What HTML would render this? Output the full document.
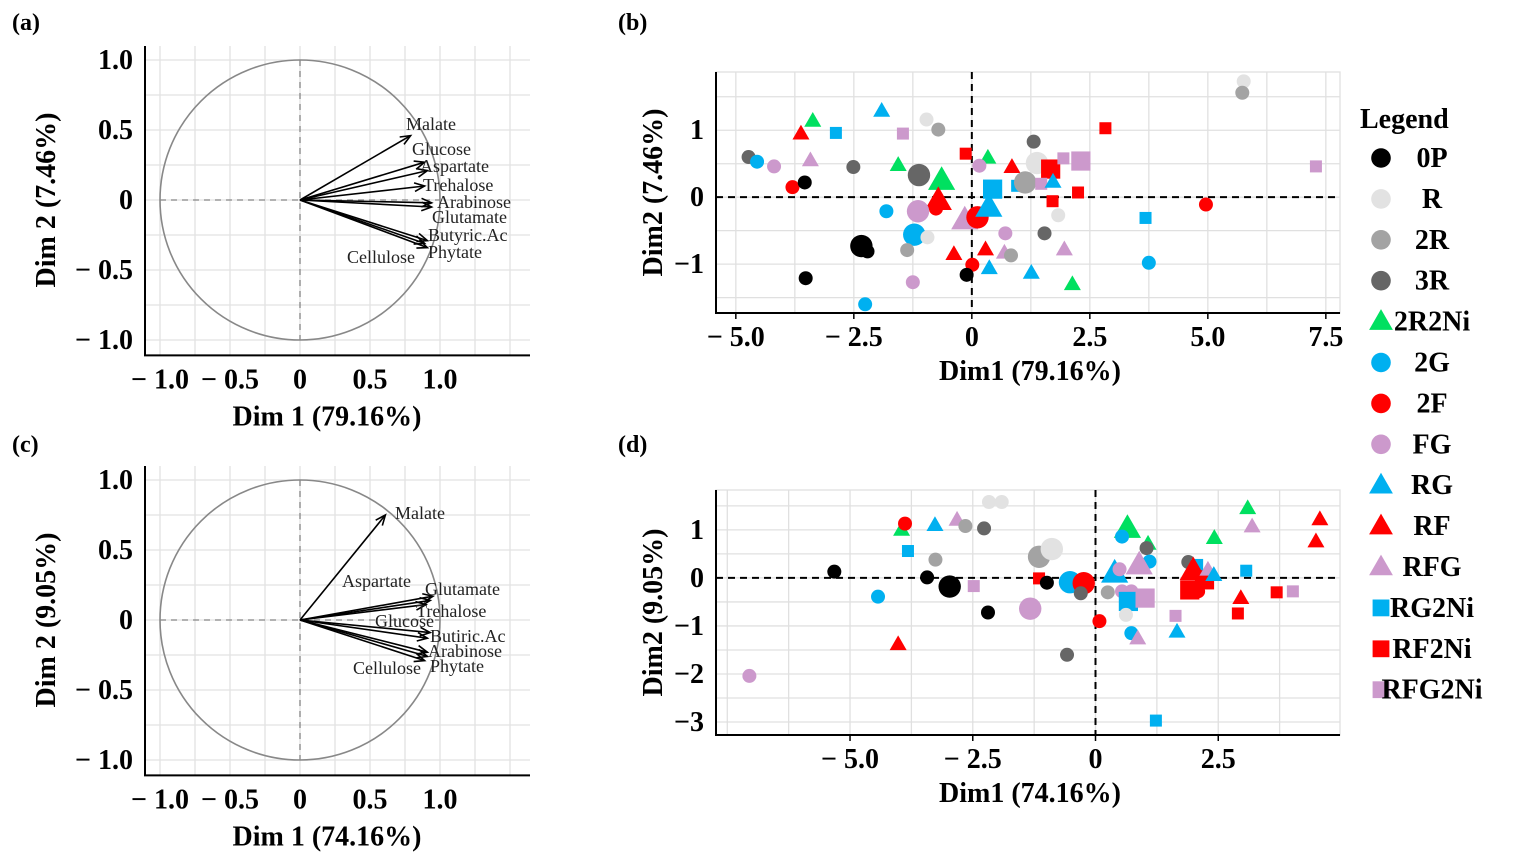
<!DOCTYPE html>
<html><head><meta charset="utf-8">
<style>
html,body{margin:0;padding:0;background:#fff;}
svg{display:block;font-family:"Liberation Serif",serif;}
</style></head>
<body>
<svg id="fig" width="1518" height="856" viewBox="0 0 1518 856" xmlns="http://www.w3.org/2000/svg"></svg>
<script>
// ---- Loadings data (a) ----
const aVars = ["Malate","Glucose","Aspartate","Trehalose","Arabinose","Glutamate","Butyric.Ac","Phytate","Cellulose"];
const aX = [0.79,0.89,0.91,0.89,0.94,0.94,0.91,0.91,0.89];
const aY = [0.46,0.27,0.21,0.10,-0.02,-0.05,-0.29,-0.34,-0.31];
// ---- Loadings data (c) ----
const cVars = ["Malate","Aspartate","Glutamate","Trehalose","Glucose","Butiric.Ac","Arabinose","Phytate","Cellulose"];
const cX = [0.61,0.93,0.95,0.90,0.93,0.91,0.91,0.91,0.89];
const cY = [0.75,0.14,0.17,0.11,-0.09,-0.13,-0.23,-0.26,-0.29];
const axisTicks = [-1.0,-0.5,0,0.5,1.0];
const axisTickLabels = ["− 1.0","− 0.5","0","0.5","1.0"];

// ---- Groups ----
const groups = ["0P","R","2R","3R","2R2Ni","2G","2F","FG","RG","RF","RFG","RG2Ni","RF2Ni","RFG2Ni"];
const groupColor = ["#000000","#e2e2e2","#a3a3a3","#666666","#00e060","#00b0f0","#ff0000","#cc99cc","#00b0f0","#ff0000","#cc99cc","#00b0f0","#ff0000","#cc99cc"];
const groupShape = ["c","c","c","c","t","c","c","c","t","t","t","s","s","s"];

// ---- Scores (b) ----
const bX = [-4.73,-4.55,-4.19,-3.80,-3.54,-3.62,-3.37,-3.42,-2.88,-3.52,-2.51,-1.91,-1.46,-0.96,-0.71,-1.56,-1.12,-0.64,-0.71,-0.76,-1.81,-1.14,-1.22,-0.94,-2.34,-2.21,-1.37,-1.25,-2.26,-0.13,0.34,0.16,0.85,-0.15,0.12,0.44,0.36,0.96,1.13,1.31,1.38,1.67,2.31,1.94,1.47,1.72,2.25,1.71,2.83,1.83,1.54,0.71,-0.38,0.29,0.69,0.83,0.01,-0.11,0.37,1.26,1.96,2.13,3.75,3.68,4.96,5.76,5.73,7.29];
const bY = [0.60,0.53,0.46,0.15,0.22,0.95,1.14,0.55,0.96,-1.21,0.45,1.29,0.95,1.16,1.01,0.48,0.33,0.25,-0.05,-0.17,-0.21,-0.21,-0.56,-0.60,-0.73,-0.81,-0.79,-1.27,-1.60,0.65,0.59,0.47,0.45,-0.34,-0.30,0.12,-0.15,0.17,0.22,0.83,0.51,0.42,0.54,0.58,0.20,0.23,0.07,-0.06,1.03,-0.27,-0.54,-0.54,-0.85,-0.78,-0.83,-0.87,-1.01,-1.16,-1.06,-1.13,-0.78,-1.30,-0.98,-0.31,-0.11,1.73,1.56,0.46];
const bGroup = ["3R","2G","FG","2F","0P","RF","2R2Ni","RFG","RG2Ni","0P","3R","RG","RFG2Ni","R","2R","2R2Ni","3R","2R2Ni","RF","2F","2G","FG","2G","R","0P","0P","2R","FG","2G","RF2Ni","2R2Ni","FG","RF","RFG","2F","RG2Ni","RG","RG2Ni","2R","3R","R","RF2Ni","RFG2Ni","RFG2Ni","RFG2Ni","RG","RF2Ni","RF2Ni","RF2Ni","R","3R","FG","RF","RF","RFG","2R","2F","0P","RG","RG","RFG","2R2Ni","2G","RG2Ni","2F","R","2R","RFG2Ni"];
const bBig = [0,0,0,0,0,0,0,0,0,0,0,0,0,0,0,0,1,1,1,0,0,1,1,0,1,0,0,0,0,0,0,0,0,1,1,1,1,0,1,0,1,1,1,0,0,0,0,0,0,0,0,0,0,0,0,0,0,0,0,0,0,0,0,0,0,0,0,0];

// ---- Scores (d) ----
const dX = [-7.05,-5.32,-4.43,-3.95,-3.88,-3.82,-4.02,-3.27,-3.26,-2.82,-2.65,-2.27,-2.17,-1.91,-3.43,-2.97,-2.48,-2.19,-1.33,-1.15,-0.89,-1.15,-0.99,-0.52,-0.24,-0.30,-0.58,0.08,0.39,0.65,0.54,1.07,1.04,1.10,0.89,0.49,0.25,0.54,0.73,0.67,1.01,0.62,0.73,0.86,1.63,1.66,1.89,2.07,1.99,1.92,2.22,2.09,2.29,2.41,2.42,2.96,2.90,3.07,3.10,3.19,3.69,4.02,4.57,4.49,1.23];
const dY = [-2.04,0.13,-0.39,1.00,1.13,0.56,-1.38,1.10,0.38,1.21,1.08,1.03,1.58,1.58,0.01,-0.18,-0.17,-0.72,-0.64,0.44,0.60,-0.01,-0.10,-0.09,-0.11,-0.32,-1.60,-0.90,0.10,1.03,0.86,0.71,0.62,0.34,0.27,0.18,-0.30,-0.28,-0.28,-0.49,-0.42,-0.77,-1.15,-1.26,-0.79,-1.12,0.33,0.27,0.15,-0.25,-0.04,-0.28,0.17,0.06,0.83,-0.42,-0.74,0.15,1.45,1.07,-0.30,-0.28,1.22,0.76,-2.97];
const dGroup = ["FG","0P","2G","2R2Ni","2F","RG2Ni","RF","RG","2R","RFG","2R","3R","R","R","0P","0P","RFG2Ni","0P","FG","2R","R","RF2Ni","0P","2G","2F","3R","3R","2F","RG","2R2Ni","2G","2R2Ni","3R","2G","RFG","FG","2R","FG","FG","RG2Ni","RFG2Ni","R","2G","RFG","RFG2Ni","RG","3R","RG2Ni","RF","RF2Ni","RF2Ni","2F","RFG","RG","2R2Ni","RF","RF2Ni","RG2Ni","2R2Ni","RFG","RF2Ni","RFG2Ni","RF","RF","RG2Ni"];
const dBig = [0,0,0,0,0,0,0,0,0,0,0,0,0,0,0,1,0,0,1,1,1,0,0,1,1,0,0,0,1,1,0,0,0,0,1,0,0,0,0,1,1,0,0,0,0,0,0,0,1,1,1,0,0,0,0,0,0,0,0,0,0,0,0,0,0];

const NS="http://www.w3.org/2000/svg";
const svg=document.getElementById('fig');
function mk(tag,attrs,parent,txt){const e=document.createElementNS(NS,tag);for(const k in attrs)e.setAttribute(k,attrs[k]);if(txt!==undefined)e.textContent=txt;(parent||svg).appendChild(e);return e;}

// ---------- Loadings panels ----------
function loadPanel(id,cy,vars,xs,ys,labelPos,dimx,dimy){
  const g=mk('g',{});
  
  
  const cx=300,R=140;
  const sx=v=>cx+v*R, sy=v=>cy-v*R;
  const top=sy(1.1), bot=sy(-1.11), left=145, right=530;
  for(let v=-1;v<=1.5;v+=0.25){const x=sx(v); if(x<left||x>right)continue; const l=mk('line',{x1:x,x2:x,y1:top,y2:bot,stroke:'#e2e2e2','stroke-width':1.3},g); }
  for(let v=-1;v<=1.1;v+=0.25){const y=sy(v); const l=mk('line',{x1:left,x2:right,y1:y,y2:y,stroke:'#e2e2e2','stroke-width':1.3},g); }
  const circ=mk('circle',{cx:cx,cy:cy,r:R,fill:'none',stroke:'#888','stroke-width':1.6},g);
  
  mk('line',{x1:cx,x2:cx,y1:sy(1),y2:sy(-1),stroke:'#888','stroke-dasharray':'6,5','stroke-width':1.3},g);
  mk('line',{x1:sx(-1),x2:sx(1),y1:cy,y2:cy,stroke:'#888','stroke-dasharray':'6,5','stroke-width':1.3},g);
  const ax=mk('path',{d:`M${left},${top} L${left},${bot} L${right},${bot}`,fill:'none',stroke:'#000','stroke-width':2},g);
  
  axisTicks.forEach((t,i)=>{
    const tx=mk('text',{x:sx(t),y:bot+33,'text-anchor':'middle','font-size':28,'font-weight':'bold'},g,axisTickLabels[i]);
    
    const ty=mk('text',{x:left-12,y:sy(t)+9,'text-anchor':'end','font-size':28,'font-weight':'bold'},g,axisTickLabels[i]);
    
  });
  const xt=mk('text',{x:327,y:bot+70,'text-anchor':'middle','font-size':28,'font-weight':'bold'},g,dimx);
  
  const yt=mk('text',{x:0,y:0,'text-anchor':'middle','font-size':28,'font-weight':'bold',transform:`translate(55,${cy}) rotate(-90)`},g,dimy);
  
  vars.forEach((v,i)=>{
    const x2=sx(xs[i]),y2=sy(ys[i]);
    const ang=Math.atan2(y2-cy,x2-cx);
    const a=mk('line',{x1:cx,y1:cy,x2:x2,y2:y2,stroke:'#000','stroke-width':1.6},g);
    
    const h=11;
    mk('path',{d:`M${x2-h*Math.cos(ang-0.4)},${y2-h*Math.sin(ang-0.4)} L${x2},${y2} L${x2-h*Math.cos(ang+0.4)},${y2-h*Math.sin(ang+0.4)}`,fill:'none',stroke:'#000','stroke-width':1.6},g);
    const lp=labelPos[i];
    const lt=mk('text',{x:lp[0],y:lp[1],'font-size':18,fill:'#222'},g,v);
    
  });
}
loadPanel('a',200,aVars,aX,aY,[[406,130],[412,155],[420,172],[423,191],[437,208],[432,223],[428,241],[428,258],[347,263]],"Dim 1 (79.16%)","Dim 2 (7.46%)");
loadPanel('c',620,cVars,cX,cY,[[395,519],[342,587],[425,595],[416,617],[375,627],[430,642],[428,657],[430,672],[353,674]],"Dim 1 (74.16%)","Dim 2 (9.05%)");

// ---------- Score panels ----------
function scorePanel(id,box,xr,yr,xticks,xlabels,yticks,ylabels,xs,ys,gs,bigs,dimx,dimy){
  const g=mk('g',{});
  
  
  const [L,T,Rr,B]=box;
  const sx=v=>L+(v-xr[0])/(xr[1]-xr[0])*(Rr-L);
  const sy=v=>B-(v-yr[0])/(yr[1]-yr[0])*(B-T);
  for(let v=Math.ceil(xr[0]/1.25)*1.25;v<=xr[1];v+=1.25){const l=mk('line',{x1:sx(v),x2:sx(v),y1:T,y2:B,stroke:'#e0e0e0','stroke-width':1.3},g);}
  for(let v=Math.ceil(yr[0]/0.5)*0.5;v<=yr[1];v+=0.5){const l=mk('line',{x1:L,x2:Rr,y1:sy(v),y2:sy(v),stroke:'#e0e0e0','stroke-width':1.3},g);}
  mk('rect',{x:L,y:T,width:Rr-L,height:B-T,fill:'none',stroke:'#e0e0e0','stroke-width':1.3},g);
  mk('line',{x1:sx(0),x2:sx(0),y1:T,y2:B,stroke:'#000','stroke-dasharray':'7,5','stroke-width':2},g);
  mk('line',{x1:L,x2:Rr,y1:sy(0),y2:sy(0),stroke:'#000','stroke-dasharray':'7,5','stroke-width':2},g);
  mk('path',{d:`M${L},${T} L${L},${B} L${Rr},${B}`,fill:'none',stroke:'#000','stroke-width':2},g);
  xticks.forEach((t,i)=>{mk('line',{x1:sx(t),x2:sx(t),y1:B,y2:B+6,stroke:'#000','stroke-width':1.5},g);
    const tx=mk('text',{x:sx(t),y:B+33,'text-anchor':'middle','font-size':28,'font-weight':'bold'},g,xlabels[i]);
    });
  yticks.forEach((t,i)=>{
    const ty=mk('text',{x:L-12,y:sy(t)+9,'text-anchor':'end','font-size':28,'font-weight':'bold'},g,ylabels[i]);
    });
  const xt=mk('text',{x:1030,y:B+67,'text-anchor':'middle','font-size':28,'font-weight':'bold'},g,dimx);
  
  const yt=mk('text',{x:0,y:0,'text-anchor':'middle','font-size':28,'font-weight':'bold',transform:`translate(662,${(T+B)/2}) rotate(-90)`},g,dimy);
  
  xs.forEach((xv,i)=>{
    const gi=groups.indexOf(gs[i]);
    const m=drawMarker(g,sx(xv),sy(ys[i]),groupShape[gi],groupColor[gi],bigs[i]?1.6:1);
    
    
  });
}
function drawMarker(g,x,y,shape,col,k){
  if(shape==='c') return mk('circle',{cx:x,cy:y,r:7*k,fill:col},g);
  if(shape==='s'){const s=12*k;return mk('rect',{x:x-s/2,y:y-s/2,width:s,height:s,fill:col},g);}
  const s=17*k,h=s*0.87;
  return mk('path',{d:`M${x},${y-h*0.6} L${x+s/2},${y+h*0.4} L${x-s/2},${y+h*0.4} Z`,fill:col},g);
}
scorePanel('b',[716,72,1340,313],[-5.42,7.8],[-1.73,1.87],[-5,-2.5,0,2.5,5,7.5],["− 5.0","− 2.5","0","2.5","5.0","7.5"],[1,0,-1],["1","0","−1"],bX,bY,bGroup,bBig,"Dim1 (79.16%)","Dim2 (7.46%)");
scorePanel('d',[716,490,1340,735],[-7.73,4.98],[-3.27,1.83],[-5,-2.5,0,2.5],["− 5.0","− 2.5","0","2.5"],[1,0,-1,-2,-3],["1","0","−1","−2","−3"],dX,dY,dGroup,dBig,"Dim1 (74.16%)","Dim2 (9.05%)");

// ---------- Panel letters ----------
[["(a)",12,30],["(b)",618,30],["(c)",12,452],["(d)",618,452]].forEach(p=>{
  const t=mk('text',{x:p[1],y:p[2],'font-size':24,'font-weight':'bold'},svg,p[0]);
  
});

// ---------- Legend ----------
const lg=mk('g',{});


const lt=mk('text',{x:1360,y:128,'font-size':28,'font-weight':'bold'},lg,"Legend");

groups.forEach((gname,i)=>{
  const y=158+i*40.9;
  const e=mk('g',{},lg);
  
  
  drawMarker(e,1381,y,groupShape[i],groupColor[i],1.4);
  mk('text',{x:1432,y:y+9,'text-anchor':'middle','font-size':28,'font-weight':'bold'},e,gname);
});
</script>
</body></html>
